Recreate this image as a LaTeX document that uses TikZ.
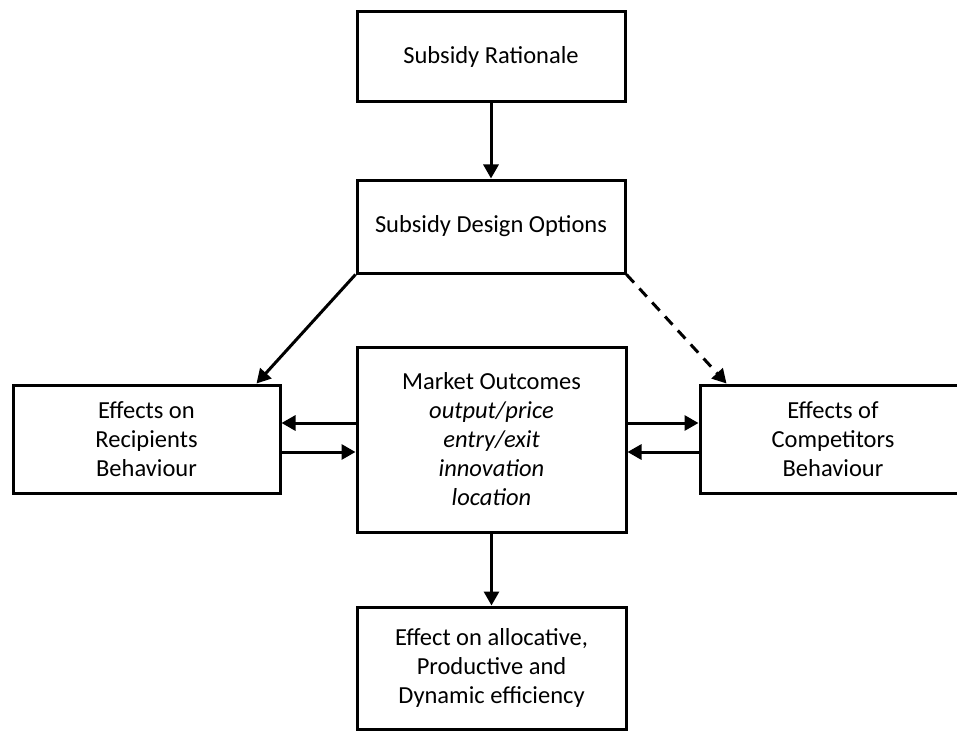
\documentclass[tikz,border=0pt]{standalone}
\usepackage{fontspec}
\setmainfont{Carlito}
\usetikzlibrary{arrows.meta,calc}
\begin{document}
\begin{tikzpicture}[x=1pt,y=-1pt,
  box/.style={draw,line width=3pt,inner sep=0pt,align=center,
    font=\fontsize{24.5}{29}\selectfont},
  arr/.style={line width=3pt,-{Triangle[length=14pt,width=15pt]}},
  dasharr/.style={arr,dash pattern=on 11pt off 8pt}]
\useasboundingbox (0,0) rectangle (957,730);
\clip (0,0) rectangle (957,730);
\node[box,minimum width=268pt,minimum height=90pt] (rat) at (491,57) {Subsidy Rationale};
\node[box,minimum width=268pt,minimum height=93pt] (des) at (491,226.5) {Subsidy Design Options};
\node[box,minimum width=269pt,minimum height=185pt] (mkt) at (491.5,439.5)
  {Market Outcomes\\\itshape output/price\\\itshape entry/exit\\\itshape innovation\\\itshape location};
\node[box,minimum width=267pt,minimum height=108pt] (rec) at (146.5,439) {Effects on\\Recipients\\Behaviour};
\node[box,minimum width=266pt,minimum height=108pt] (comp) at (833,439) {Effects of\\Competitors\\Behaviour};
\node[box,minimum width=269pt,minimum height=122pt] (eff) at (491.5,668)
  {Effect on allocative,\\Productive and\\Dynamic efficiency};
\draw[arr] (rat.south) -- (des.north);
\draw[arr] (des.south west) -- ($(rec.north east)+(-25,0)$);
\draw[dasharr] (des.south east) -- ($(comp.north west)+(28,0)$);
\draw[arr] ([yshift=16.5pt]mkt.west) -- ([yshift=16pt]rec.east);
\draw[arr] ([yshift=-13pt]rec.east) -- ([yshift=-12.5pt]mkt.west);
\draw[arr] ([yshift=16.5pt]mkt.east) -- ([yshift=16pt]comp.west);
\draw[arr] ([yshift=-13pt]comp.west) -- ([yshift=-12.5pt]mkt.east);
\draw[arr] (mkt.south) -- (eff.north);
\end{tikzpicture}
\end{document}
